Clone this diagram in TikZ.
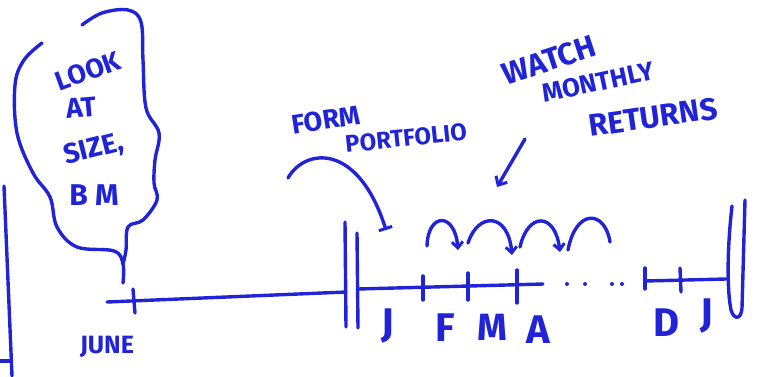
\documentclass[tikz,border=0pt]{standalone}
\usepackage{fontspec}
\setmainfont{Fira Sans}
\usetikzlibrary{arrows.meta}
\definecolor{ink}{RGB}{32,36,214}
\begin{document}
\begin{tikzpicture}[x=1pt,y=-1pt,
  pen/.style={draw=ink,line width=3.4pt,line cap=round,line join=round},
  hand/.style={text=ink,inner sep=0pt,font=\fontsize{#1}{#1}\selectfont\bfseries},
  hand/.default=30,
  hop/.style={pen,-{Straight Barb[length=6pt,width=11pt,line width=3pt]}}]
\useasboundingbox (0,0) rectangle (757,376);

% margin rule on the left
\draw[pen] (4,186) -- (12,376);
\draw[pen] (0,361) -- (11,361);

% timeline before formation
\coordinate (start) at (107,302);
\coordinate (june) at (134,301);
\coordinate (bar) at (346,292);
\draw[pen] (start) -- (bar);
\draw[pen] (133,289) -- (135,313);
\node[hand=25] (junelabel) at (107,347) {JUNE};

% formation bars
\draw[pen] (345,222) -- (346,327);
\draw[pen] (357,233) -- (358,328);

% holding year
\coordinate (jan) at (423,287);
\coordinate (feb) at (468,286);
\coordinate (mar) at (517,285);
\coordinate (apr) at (543,284);
\draw[pen] (358,289) -- (apr);
\draw[pen] (423,276) -- (423,300);
\draw[pen] (468,273) -- (468,300);
\draw[pen] (517,270) -- (517,303);
\foreach \x in {567,585,612,622}
  \fill[ink] (\x,284) circle (2pt);
\coordinate (nov) at (645,281);
\coordinate (dec) at (680,280);
\coordinate (end) at (726,279);
\draw[pen] (nov) -- (end);
\draw[pen] (645,268) -- (645,289);
\draw[pen] (680,268) -- (681,292);

% closing bar
\draw[pen] (732,206) .. controls (727,250) and (727,290) .. (731,310)
  .. controls (734,320) and (741,320) .. (742,308) -- (745,200);

% month letters
\node[hand=40] (lj) at (388,326) {J};
\node[hand=40] (lf) at (445,328) {F};
\node[hand=38] (lm) at (492,327) {M};
\node[hand=40] (la) at (538,330) {A};
\node[hand=40] (ld) at (667,323) {D};
\node[hand=40] (lj2) at (707,316) {J};

% month-to-month hops
\draw[hop] (427,246) .. controls (428,212) and (455,212) .. (458,250);
\draw[hop] (468,243) .. controls (478,212) and (508,212) .. (512,255);
\draw[hop] (520,247) .. controls (528,212) and (555,212) .. (560,252);
\draw[pen] (568,250) .. controls (576,208) and (605,210) .. (610,242);

% form portfolio
\node[hand=27,rotate=9] (form) at (326,120) {FORM};
\node[hand=24,rotate=6] (portfolio) at (406,138) {PORTFOLIO};
\coordinate (formstart) at (288,178);
\coordinate (formend) at (386,230);
\draw[pen,-{Bar[width=14pt,line width=3pt]}] (formstart)
  .. controls (305,148) and (358,142) .. (formend);

% watch monthly returns
\node[hand=31,rotate=18] (watch) at (549,60) {WATCH};
\node[hand=26,rotate=12] (monthly) at (598,82) {MONTHLY};
\node[hand=31,rotate=8] (returns) at (653,117) {RETURNS};
\coordinate (wstart) at (525,139);
\coordinate (wend) at (497,187);
\draw[pen,-{Straight Barb[length=7pt,width=13pt,line width=3pt]}] (wstart) -- (wend);

% thought bubble
\node[hand=27,rotate=20] (look) at (88,71) {LOOK};
\node[hand=28,rotate=5] (at) at (81,108) {AT};
\node[hand=28,rotate=14] (size) at (94,150) {SIZE,};
\node[hand=30] (bm) at (94,195) {B M};
\coordinate (tail) at (123,283);
\draw[pen] plot[smooth,tension=0.6] coordinates {(42,43) (24,60) (15,85) (17,133)
  (33,173) (50,197) (57,227) (77,247) (114,251) (123,264) (tail)};
\draw[pen] plot[smooth,tension=0.6] coordinates {(82,25) (102,13) (128,10) (141,22)
  (143,60) (146,108) (159,133) (155,160) (154,183) (157,200) (143,220) (128,227)
  (126,250) (123,264)};
\end{tikzpicture}
\end{document}
